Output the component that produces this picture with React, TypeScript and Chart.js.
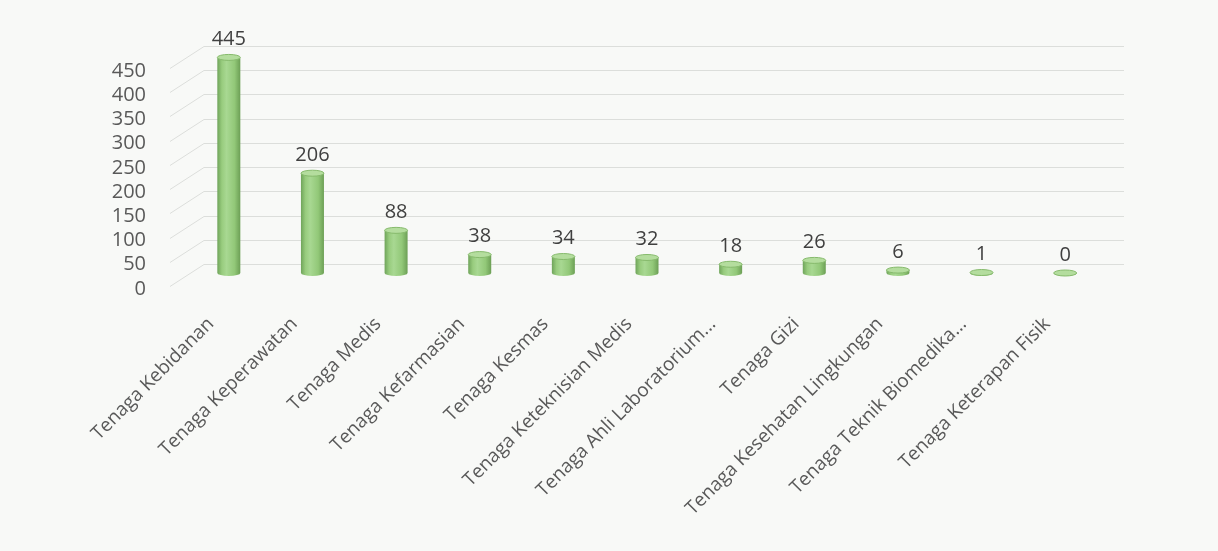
import React, { useEffect, useRef } from "react";
import { Chart, registerables } from "chart.js";

Chart.register(...registerables);

const categories: string[] = [
  "Tenaga Kebidanan",
  "Tenaga Keperawatan",
  "Tenaga Medis",
  "Tenaga Kefarmasian",
  "Tenaga Kesmas",
  "Tenaga Keteknisian Medis",
  "Tenaga Ahli Laboratorium...",
  "Tenaga Gizi",
  "Tenaga Kesehatan Lingkungan",
  "Tenaga Teknik Biomedika...",
  "Tenaga Keterapan Fisik",
];
const values: number[] = [445, 206, 88, 38, 34, 32, 18, 26, 6, 1, 0];
const yTicks: number[] = [0, 50, 100, 150, 200, 250, 300, 350, 400, 450];

const BG = "#f8f9f7";
const FONT = "'Open Sans', 'Noto Sans', sans-serif";

const wallPlugin = {
  id: "wall",
  beforeDatasetsDraw(chart: any) {
    const { ctx, chartArea } = chart;
    const y = chart.scales.y;
    const dx = 17, dyBack = 9, dyFront = 13;
    ctx.save();
    ctx.strokeStyle = "#dcdedb";
    ctx.lineWidth = 1;
    for (const v of yTicks) {
      const p = Math.round(y.getPixelForValue(v)) + 0.5;
      ctx.beginPath();
      ctx.moveTo(chartArea.left + dx, p - dyBack);
      ctx.lineTo(chartArea.right + dx, p - dyBack);
      ctx.moveTo(chartArea.left - dx, p + dyFront);
      ctx.lineTo(chartArea.left + dx, p - dyBack);
      ctx.stroke();
    }
    ctx.restore();
  },
};

const cylinderPlugin = {
  id: "cylinder",
  afterDatasetsDraw(chart: any) {
    const { ctx } = chart;
    const meta = chart.getDatasetMeta(0);
    ctx.save();
    meta.data.forEach((el: any, i: number) => {
      const { x, y, base, width } = el.getProps(["x", "y", "base", "width"], true);
      const r = width / 2;
      const ry = 3;
      const g = ctx.createLinearGradient(x - r, 0, x + r, 0);
      g.addColorStop(0, "#6fa45a");
      g.addColorStop(0.2, "#98cc7e");
      g.addColorStop(0.4, "#a8d892");
      g.addColorStop(0.75, "#92c878");
      g.addColorStop(1, "#6c9f55");
      ctx.fillStyle = g;
      ctx.beginPath();
      ctx.moveTo(x - r, y);
      ctx.lineTo(x - r, base);
      ctx.ellipse(x, base, r, ry, 0, Math.PI, 0, true);
      ctx.lineTo(x + r, y);
      ctx.closePath();
      ctx.fill();
      ctx.fillStyle = "#b4dd9e";
      ctx.strokeStyle = "#86ba6c";
      ctx.lineWidth = 1;
      ctx.beginPath();
      ctx.ellipse(x, y, r, ry, 0, 0, Math.PI * 2);
      ctx.fill();
      ctx.stroke();

      ctx.fillStyle = "#404040";
      ctx.font = `20px ${FONT}`;
      ctx.textAlign = "center";
      ctx.textBaseline = "middle";
      ctx.fillText(String(values[i]), x, y - 18);
    });
    ctx.restore();
  },
};

export default function App() {
  const ref = useRef<HTMLCanvasElement>(null);
  useEffect(() => {
    document.body.style.margin = "0";
    document.body.style.background = BG;
    const chart = new Chart(ref.current as HTMLCanvasElement, {
      type: "bar",
      data: {
        labels: categories,
        datasets: [
          {
            data: values,
            backgroundColor: "rgba(0,0,0,0)",
            borderWidth: 0,
            barPercentage: 0.275,
            categoryPercentage: 1,
          },
        ],
      },
      options: {
        animation: false,
        responsive: true,
        maintainAspectRatio: false,
        layout: { padding: { top: 55, right: 111, left: 0, bottom: 0 } },
        plugins: {
          legend: { display: false },
          tooltip: { enabled: false },
        },
        scales: {
          x: {
            grid: { display: false, drawTicks: false },
            border: { display: false },
            afterFit: (scale: any) => {
              scale.height = 278;
            },
            ticks: {
              autoSkip: false,
              maxRotation: 45,
              minRotation: 45,
              labelOffset: -18,
              padding: 40,
              color: "#595959",
              font: { family: FONT, size: 19 },
            },
          },
          y: {
            min: 0,
            max: 450,
            grid: { display: false, drawTicks: false },
            border: { display: false },
            afterFit: (scale: any) => {
              scale.width = 187;
            },
            afterBuildTicks: (scale: any) => {
              scale.ticks = yTicks.map((v) => ({ value: v }));
            },
            ticks: {
              autoSkip: false,
              padding: 41,
              labelOffset: 16,
              color: "#595959",
              font: { family: FONT, size: 20 },
            },
          },
        },
      },
      plugins: [wallPlugin, cylinderPlugin],
    });
    return () => chart.destroy();
  }, []);
  return (
    <div style={{ width: 1218, height: 551, position: "relative", background: BG }}>
      <canvas ref={ref} />
    </div>
  );
}
